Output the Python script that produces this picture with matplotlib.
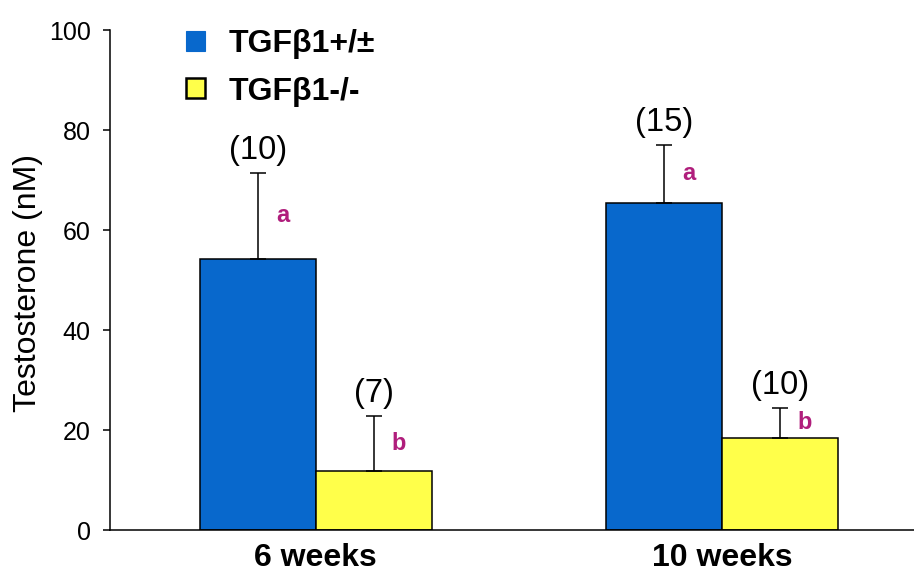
import matplotlib
matplotlib.use("Agg")
import matplotlib.pyplot as plt
from matplotlib.patches import Patch
import numpy as np

plt.rcParams['font.family'] = ['Liberation Sans', 'DejaVu Sans']

# Data
groups = ["6 weeks", "10 weeks"]
series_names = ["TGFβ1+/±", "TGFβ1-/-"]
het_means = [54.2, 65.5]
het_sem = [17.2, 11.5]
ko_means = [11.9, 18.5]
ko_sem = [10.9, 6.0]
het_n = ["(10)", "(15)"]
ko_n = ["(7)", "(10)"]
het_sig = ["a", "a"]
ko_sig = ["b", "b"]

blue = "#0868CC"
yellow = "#FFFF4A"
sig_color = "#B01E7C"

fig = plt.figure(figsize=(9.14, 5.71), dpi=100)
ax = fig.add_axes([110/914, 1 - 530/571, 804/914, 500/571])

x = np.arange(len(groups))
w = 0.286
xb = x - w / 2
xy = x + w / 2

err_kw = dict(ecolor="black", elinewidth=1.1, capsize=6, capthick=1.1)
ax.bar(xb, het_means, w, color=blue, edgecolor="black", linewidth=1.1,
       yerr=[np.zeros(2), het_sem], error_kw=err_kw, zorder=2)
ax.bar(xy, ko_means, w, color=yellow, edgecolor="black", linewidth=1.1,
       yerr=[np.zeros(2), ko_sem], error_kw=err_kw, zorder=2)

# sample sizes above error bars, significance letters beside them
for xs, m, e, ns, sig in [(xb, het_means, het_sem, het_n, het_sig),
                          (xy, ko_means, ko_sem, ko_n, ko_sig)]:
    for xi, mi, ei, ni, si in zip(xs, m, e, ns, sig):
        ax.annotate(ni, (xi, mi + ei), xytext=(0, 16), textcoords="offset points",
                    ha="center", va="center", fontsize=23.5)
        ax.annotate(si, (xi, mi + ei / 2), xytext=(18, 0), textcoords="offset points",
                    ha="center", va="center", fontsize=17, fontweight="bold",
                    color=sig_color)

ax.set_xlim(-0.507, 1.473)
ax.set_ylim(0, 100)
ax.set_yticks([0, 20, 40, 60, 80, 100])
ax.set_xticks(x)
ax.set_xticklabels(groups, fontsize=23, fontweight="bold")
ax.tick_params(axis="x", length=0, pad=9)
ax.tick_params(axis="y", labelsize=18, length=5, width=1.1, pad=9, direction="out")
ax.set_ylabel("Testosterone (nM)", fontsize=23, va="center")
ax.yaxis.set_label_coords(-0.102, 0.494)

for s in ["top", "right"]:
    ax.spines[s].set_visible(False)
for s in ["left", "bottom"]:
    ax.spines[s].set_linewidth(1.1)

handles = [Patch(facecolor=blue, edgecolor=blue, linewidth=0.8),
           Patch(facecolor=yellow, edgecolor="black", linewidth=1.8)]
ax.legend(handles, series_names, loc="upper left",
          bbox_to_anchor=(186/914, 1 - 29/571), bbox_transform=fig.transFigure,
          frameon=False, prop={"size": 23, "weight": "bold"},
          handlelength=0.6, handleheight=0.6, handletextpad=0.72,
          labelspacing=0.55, borderaxespad=0, borderpad=0)

fig.savefig("out.png", dpi=100)
